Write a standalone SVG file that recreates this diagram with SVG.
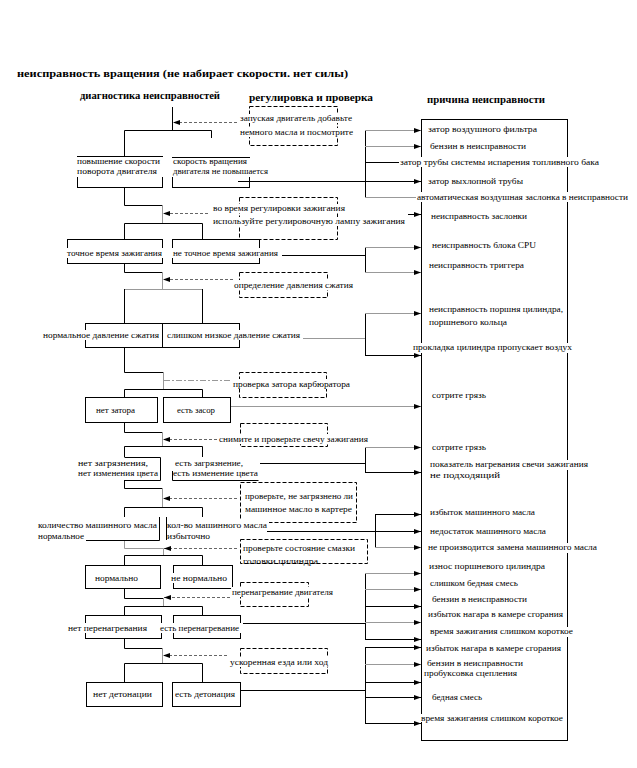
<svg xmlns="http://www.w3.org/2000/svg" width="637" height="768" viewBox="0 0 637 768">
<defs>
<style>
.t{font-family:"Liberation Serif","Times New Roman",serif;font-size:9px;fill:#000}
.h{font-weight:bold;font-size:10px}
.ln{stroke:#000;stroke-width:1;fill:none}
.gr{stroke:#999}
.box{fill:none;stroke:#000;stroke-width:1}
.dbox{fill:none;stroke:#000;stroke-width:1;stroke-dasharray:4,2}
.da{stroke:#666;stroke-width:1;stroke-dasharray:3,2;fill:none}
.dd{stroke:#999;stroke-width:1;stroke-dasharray:6,2,2,2;fill:none}
.bg{fill:#fff}
</style>
<marker id="ah" markerWidth="7" markerHeight="6" refX="7" refY="3" orient="auto" markerUnits="userSpaceOnUse"><path d="M0,0.5 L7,3 L0,5.5z" fill="#000"/></marker>
</defs>
<rect width="637" height="768" fill="#fff"/>

<g id="titles">
<text class="t h" x="17" y="77" font-size="11" textLength="331" lengthAdjust="spacingAndGlyphs">неисправность вращения (не набирает скорости. нет силы)</text>
<text class="t h" x="80" y="98.5" textLength="140" lengthAdjust="spacingAndGlyphs">диагностика неисправностей</text>
<text class="t h" x="249" y="100.5" textLength="124" lengthAdjust="spacingAndGlyphs">регулировка и проверка</text>
<text class="t h" x="427" y="102.5" textLength="118" lengthAdjust="spacingAndGlyphs">причина неисправности</text>
</g>

<g id="connectors">
<path class="ln" d="M172.5,107 V130.5 M124.5,156 V130.5 H211.5 V138"/>
<line class="da" x1="237" y1="122.5" x2="173" y2="122.5" marker-end="url(#ah)"/>
<path class="ln" d="M238,181.5 H421" marker-end="url(#ah)"/>
<path class="ln" d="M365.5,130 V197.5"/>
<line class="ln gr" x1="365" y1="130.5" x2="421" y2="130.5" marker-end="url(#ah)"/>
<line class="ln gr" x1="365" y1="146.5" x2="421" y2="146.5" marker-end="url(#ah)"/>
<line class="ln" x1="365" y1="162.5" x2="399" y2="162.5"/>
<line class="ln gr" x1="365" y1="197.5" x2="416" y2="197.5"/>
<path class="ln" d="M124.5,188 V205.5 H162.5"/>
<path class="ln gr" d="M162.5,205 V223"/>
<line class="da" x1="208" y1="213.5" x2="163" y2="213.5" marker-end="url(#ah)"/>
<path class="ln" d="M124.5,239 V223.5 H202.5 V239"/>
<line class="ln" x1="408" y1="214.5" x2="421" y2="214.5" marker-end="url(#ah)"/>
<path class="ln" d="M282,255.5 H365.5 M365.5,247 V272.5"/>
<line class="ln gr" x1="365" y1="247.5" x2="421" y2="247.5" marker-end="url(#ah)"/>
<line class="ln gr" x1="365" y1="272.5" x2="421" y2="272.5" marker-end="url(#ah)"/>
<path class="ln" d="M124.5,263 V272.5 H162.5"/>
<path class="ln gr" d="M162.5,272 V289"/>
<line class="da" x1="233" y1="279.5" x2="163" y2="279.5" marker-end="url(#ah)"/>
<path class="ln gr" d="M124.5,289.5 H202.5"/>
<path class="ln" d="M124.5,289 V323 M202.5,289 V323"/>
<path class="ln gr" d="M303,338.5 H365.5"/>
<path class="ln" d="M365.5,313 V355.5"/>
<line class="ln gr" x1="365" y1="313.5" x2="421" y2="313.5" marker-end="url(#ah)"/>
<line class="ln" x1="365" y1="355.5" x2="421" y2="355.5" marker-end="url(#ah)"/>
<path class="ln" d="M124.5,347 V372.5 H163.5"/>
<path class="ln gr" d="M163.5,372 V389"/>
<line class="dd" x1="164" y1="380.5" x2="233" y2="380.5"/>
<path class="ln" d="M124.5,397 V389.5 H202.5 V397"/>
<line class="ln gr" x1="230" y1="406.5" x2="421" y2="406.5" marker-end="url(#ah)"/>
<path class="ln" d="M124.5,422 V432.5 H162.5"/>
<path class="ln gr" d="M162.5,432 V446"/>
<line class="da" x1="217" y1="439.5" x2="163" y2="439.5" marker-end="url(#ah)"/>
<path class="ln" d="M124.5,457 V446.5 H202.5 V457"/>
<path class="ln" d="M260,463.5 H365.5 M365.5,447 V472.5"/>
<line class="ln gr" x1="365" y1="447.5" x2="421" y2="447.5" marker-end="url(#ah)"/>
<line class="ln" x1="365" y1="472.5" x2="421" y2="472.5" marker-end="url(#ah)"/>
<path class="ln" d="M124.5,480 V488.5 H162.5"/>
<path class="ln gr" d="M162.5,488 V507"/>
<line class="da" x1="237" y1="498.5" x2="163" y2="498.5" marker-end="url(#ah)"/>
<path class="ln" d="M124.5,517 V507.5 H202.5 V517"/>
<path class="ln" d="M267,531.5 H375.5 M375.5,514 V547.5"/>
<line class="ln" x1="375" y1="514.5" x2="421" y2="514.5" marker-end="url(#ah)"/>
<line class="ln" x1="375" y1="531.5" x2="421" y2="531.5" marker-end="url(#ah)"/>
<line class="ln gr" x1="375" y1="547.5" x2="421" y2="547.5" marker-end="url(#ah)"/>
<path class="ln gr" d="M124.5,540 V548.5 H163.5 V555"/>
<line class="da" x1="237" y1="548.5" x2="164" y2="548.5" marker-end="url(#ah)"/>
<path class="ln" d="M124.5,565 V555.5 H202.5 V565"/>
<path class="ln" d="M124.5,588 V598.5 H163.5"/>
<path class="ln gr" d="M163.5,598 V606"/>
<line class="da" x1="230" y1="597.5" x2="164" y2="597.5" marker-end="url(#ah)"/>
<path class="ln" d="M124.5,615 V606.5 H202.5 V615"/>
<path class="ln" d="M243,623.5 H365.5 M365.5,573 V639.5"/>
<line class="ln gr" x1="365" y1="573.5" x2="421" y2="573.5" marker-end="url(#ah)"/>
<line class="ln gr" x1="365" y1="589.5" x2="421" y2="589.5" marker-end="url(#ah)"/>
<line class="ln" x1="365" y1="606.5" x2="421" y2="606.5" marker-end="url(#ah)"/>
<line class="ln gr" x1="365" y1="622.5" x2="421" y2="622.5" marker-end="url(#ah)"/>
<line class="ln" x1="365" y1="639.5" x2="421" y2="639.5" marker-end="url(#ah)"/>
<path class="ln" d="M124.5,638 V648.5 H162.5"/>
<path class="ln gr" d="M162.5,648 V663"/>
<line class="da" x1="227" y1="655.5" x2="163" y2="655.5" marker-end="url(#ah)"/>
<path class="ln" d="M124.5,682 V663.5 H202.5 V682"/>
<path class="ln" d="M240,690.5 H365.5 M365.5,647 V723.5"/>
<line class="ln" x1="365" y1="647.5" x2="421" y2="647.5" marker-end="url(#ah)"/>
<line class="ln gr" x1="365" y1="664.5" x2="421" y2="664.5" marker-end="url(#ah)"/>
<line class="ln" x1="365" y1="682.5" x2="421" y2="682.5" marker-end="url(#ah)"/>
<line class="ln" x1="365" y1="697.5" x2="421" y2="697.5" marker-end="url(#ah)"/>
<line class="ln" x1="365" y1="723.5" x2="421" y2="723.5" marker-end="url(#ah)"/>
</g>

<g id="check1">
<rect class="dbox" x="249.5" y="106.5" width="88" height="39"/>
<rect class="bg" x="239" y="114" width="115" height="9"/>
<rect class="bg" x="239" y="128" width="115" height="9"/>
<text class="t" x="240" y="121" textLength="112" lengthAdjust="spacingAndGlyphs">запуская двигатель добавьте</text>
<text class="t" x="240" y="135" textLength="113" lengthAdjust="spacingAndGlyphs">немного масла и посмотрите</text>
</g>

<g id="n-speed-up">
<rect class="box" x="77.5" y="156.5" width="85" height="31"/>
<rect class="bg" x="76" y="157" width="88" height="20"/>
<text class="t" x="77" y="164" textLength="83" lengthAdjust="spacingAndGlyphs">повышение скорости</text>
<text class="t" x="77" y="174" textLength="80" lengthAdjust="spacingAndGlyphs">поворота двигателя</text>
</g>

<g id="n-speed-no">
<rect class="box" x="172.5" y="157.5" width="77" height="30"/>
<rect class="bg" x="171" y="158" width="99" height="19"/>
<text class="t" x="173" y="164" textLength="74" lengthAdjust="spacingAndGlyphs">скорость вращения</text>
<text class="t" x="173" y="174" textLength="95" lengthAdjust="spacingAndGlyphs">двигателя не повышается</text>
</g>

<g id="check2">
<rect class="dbox" x="239.5" y="197.5" width="98" height="42"/>
<rect class="bg" x="212" y="204" width="135" height="9"/>
<rect class="bg" x="212" y="217" width="195" height="9"/>
<text class="t" x="213" y="211" textLength="132" lengthAdjust="spacingAndGlyphs">во время регулировки зажигания</text>
<text class="t" x="213" y="224" textLength="192" lengthAdjust="spacingAndGlyphs">используйте регулировочную лампу зажигания</text>
</g>

<g id="n-timing-ok">
<rect class="box" x="67.5" y="239.5" width="95" height="24"/>
<rect class="bg" x="66" y="248" width="98" height="10"/>
<text class="t" x="67" y="256" textLength="95" lengthAdjust="spacingAndGlyphs">точное время зажигания</text>
</g>

<g id="n-timing-bad">
<rect class="box" x="172.5" y="239.5" width="87" height="24"/>
<rect class="bg" x="171" y="248" width="109" height="10"/>
<text class="t" x="173" y="256" textLength="105" lengthAdjust="spacingAndGlyphs">не точное время зажигания</text>
</g>

<g id="check3">
<rect class="dbox" x="239.5" y="272.5" width="88" height="25"/>
<rect class="bg" x="233" y="280" width="122" height="10"/>
<text class="t" x="234" y="288" textLength="119" lengthAdjust="spacingAndGlyphs">определение давления сжатия</text>
</g>

<g id="n-press-ok">
<rect class="box" x="85.5" y="323.5" width="77" height="24"/>
<rect class="bg" x="42" y="330" width="119" height="10"/>
<text class="t" x="43" y="338" textLength="116" lengthAdjust="spacingAndGlyphs">нормальное давление сжатия</text>
</g>

<g id="n-press-low">
<rect class="box" x="162.5" y="323.5" width="77" height="24"/>
<rect class="bg" x="164" y="330" width="138" height="10"/>
<text class="t" x="167" y="338" textLength="133" lengthAdjust="spacingAndGlyphs">слишком низкое давление сжатия</text>
</g>

<g id="check4">
<rect class="dbox" x="239.5" y="372.5" width="87" height="25"/>
<rect class="bg" x="232" y="379" width="120" height="10"/>
<text class="t" x="233" y="387" textLength="117" lengthAdjust="spacingAndGlyphs">проверка затора карбюратора</text>
</g>

<g id="n-no-clog">
<rect class="box" x="85.5" y="397.5" width="72" height="25"/>
<text class="t" x="96" y="413" textLength="39" lengthAdjust="spacingAndGlyphs">нет затора</text>
</g>

<g id="n-clog">
<rect class="box" x="163.5" y="397.5" width="67" height="25"/>
<text class="t" x="177" y="413" textLength="38" lengthAdjust="spacingAndGlyphs">есть засор</text>
</g>

<g id="check5">
<rect class="dbox" x="240.5" y="423.5" width="87" height="23"/>
<rect class="bg" x="218" y="434" width="152" height="10"/>
<text class="t" x="219" y="442" textLength="149" lengthAdjust="spacingAndGlyphs">снимите и проверьте свечу зажигания</text>
</g>

<g id="n-no-dirt">
<path class="box" d="M124.5,457.5 H160.5 V480.5 H124.5"/>
<rect class="bg" x="77" y="459" width="82" height="19"/>
<text class="t" x="78" y="466" textLength="70" lengthAdjust="spacingAndGlyphs">нет загрязнения,</text>
<text class="t" x="78" y="476" textLength="80" lengthAdjust="spacingAndGlyphs">нет изменения цвета</text>
</g>

<g id="n-dirt">
<path class="box" d="M172.5,471 V480.5 H258.5"/>
<text class="t" x="175" y="466" textLength="68" lengthAdjust="spacingAndGlyphs">есть загрязнение,</text>
<text class="t" x="173" y="476" textLength="85" lengthAdjust="spacingAndGlyphs">есть изменение цвета</text>
</g>

<g id="check6">
<rect class="dbox" x="240.5" y="482.5" width="116" height="40"/>
<rect class="bg" x="244" y="491" width="111" height="10"/>
<rect class="bg" x="244" y="504" width="111" height="10"/>
<text class="t" x="245" y="499" textLength="108" lengthAdjust="spacingAndGlyphs">проверьте, не загрязнено ли</text>
<text class="t" x="245" y="512" textLength="107" lengthAdjust="spacingAndGlyphs">машинное масло в картере</text>
</g>

<g id="n-oil-ok">
<path class="box" d="M159.5,517 V540.5 H86"/>
<rect class="bg" x="37" y="520" width="121" height="10"/>
<text class="t" x="38" y="528" textLength="119" lengthAdjust="spacingAndGlyphs">количество машинного масла</text>
<text class="t" x="38" y="539" textLength="46" lengthAdjust="spacingAndGlyphs">нормальное</text>
</g>

<g id="n-oil-over">
<path class="box" d="M166.5,517 V540"/>
<rect class="bg" x="167" y="520" width="102" height="10"/>
<text class="t" x="167" y="528" textLength="100" lengthAdjust="spacingAndGlyphs">кол-во машинного масла</text>
<text class="t" x="167" y="539" textLength="43" lengthAdjust="spacingAndGlyphs">избыточно</text>
</g>

<g id="check7">
<rect class="dbox" x="240.5" y="539.5" width="127" height="24"/>
<rect class="bg" x="242" y="543" width="115" height="10"/>
<rect class="bg" x="242" y="556" width="78" height="7"/>
<text class="t" x="243" y="551" textLength="112" lengthAdjust="spacingAndGlyphs">проверьте состояние смазки</text>
<text class="t" x="243" y="564" textLength="75" lengthAdjust="spacingAndGlyphs">головки цилиндра</text>
</g>

<g id="n-normal">
<rect class="box" x="85.5" y="565.5" width="75" height="23"/>
<text class="t" x="95" y="581" textLength="43" lengthAdjust="spacingAndGlyphs">нормально</text>
</g>

<g id="n-abnormal">
<rect class="box" x="173.5" y="565.5" width="59" height="23"/>
<rect class="bg" x="170" y="573" width="59" height="10"/>
<text class="t" x="171" y="581" textLength="56" lengthAdjust="spacingAndGlyphs">не нормально</text>
</g>

<g id="check8">
<rect class="dbox" x="240.5" y="582.5" width="68" height="24"/>
<rect class="bg" x="231" y="587" width="104" height="10"/>
<text class="t" x="232" y="595" textLength="101" lengthAdjust="spacingAndGlyphs">перенагревание двигателя</text>
</g>

<g id="n-no-heat">
<rect class="box" x="85.5" y="615.5" width="76" height="23"/>
<rect class="bg" x="67" y="623" width="82" height="10"/>
<text class="t" x="68" y="631" textLength="79" lengthAdjust="spacingAndGlyphs">нет перенагревания</text>
</g>

<g id="n-heat">
<rect class="box" x="173.5" y="615.5" width="67" height="23"/>
<rect class="bg" x="159" y="623" width="82" height="10"/>
<text class="t" x="160" y="631" textLength="79" lengthAdjust="spacingAndGlyphs">есть перенагревание</text>
</g>

<g id="check9">
<rect class="dbox" x="240.5" y="648.5" width="87" height="25"/>
<rect class="bg" x="229" y="657" width="101" height="10"/>
<text class="t" x="230" y="665" textLength="98" lengthAdjust="spacingAndGlyphs">ускоренная езда или ход</text>
</g>

<g id="n-no-knock">
<rect class="box" x="86.5" y="682.5" width="76" height="24"/>
<text class="t" x="93" y="697" textLength="59" lengthAdjust="spacingAndGlyphs">нет детонации</text>
</g>

<g id="n-knock">
<rect class="box" x="172.5" y="682.5" width="68" height="24"/>
<text class="t" x="175" y="697" textLength="60" lengthAdjust="spacingAndGlyphs">есть детонация</text>
</g>

<g id="causes">
<rect class="box" x="421.5" y="119.5" width="146" height="621"/>
<rect class="bg" x="399" y="157" width="202" height="10"/>
<rect class="bg" x="416" y="192" width="214" height="10"/>
<rect class="bg" x="412" y="343" width="162" height="10"/>
<rect class="bg" x="429" y="460" width="161" height="10"/>
<rect class="bg" x="427" y="543" width="172" height="10"/>
<rect class="bg" x="429" y="627" width="146" height="10"/>
<rect class="bg" x="420" y="714" width="145" height="8"/>
<text class="t" x="428" y="132" textLength="109" lengthAdjust="spacingAndGlyphs">затор воздушного фильтра</text>
<text class="t" x="430" y="149" textLength="96" lengthAdjust="spacingAndGlyphs">бензин в неисправности</text>
<text class="t" x="400" y="165" textLength="199" lengthAdjust="spacingAndGlyphs">затор трубы системы испарения топливного бака</text>
<text class="t" x="428" y="184" textLength="95" lengthAdjust="spacingAndGlyphs">затор выхлопной трубы</text>
<text class="t" x="417" y="200" textLength="211" lengthAdjust="spacingAndGlyphs">автоматическая воздушная заслонка в неисправности</text>
<text class="t" x="431" y="219" textLength="96" lengthAdjust="spacingAndGlyphs">неисправность заслонки</text>
<text class="t" x="432" y="248" textLength="104" lengthAdjust="spacingAndGlyphs">неисправность блока CPU</text>
<text class="t" x="429" y="268" textLength="95" lengthAdjust="spacingAndGlyphs">неисправность триггера</text>
<text class="t" x="429" y="312" textLength="134" lengthAdjust="spacingAndGlyphs">неисправность поршня цилиндра,</text>
<text class="t" x="429" y="325" textLength="78" lengthAdjust="spacingAndGlyphs">поршневого кольца</text>
<text class="t" x="413" y="350" textLength="159" lengthAdjust="spacingAndGlyphs">прокладка цилиндра пропускает воздух</text>
<text class="t" x="432" y="398" textLength="54" lengthAdjust="spacingAndGlyphs">сотрите грязь</text>
<text class="t" x="432" y="450" textLength="54" lengthAdjust="spacingAndGlyphs">сотрите грязь</text>
<text class="t" x="430" y="467" textLength="158" lengthAdjust="spacingAndGlyphs">показатель нагревания свечи зажигания</text>
<text class="t" x="430" y="478" textLength="70" lengthAdjust="spacingAndGlyphs">не подходящий</text>
<text class="t" x="430" y="515" textLength="105" lengthAdjust="spacingAndGlyphs">избыток машинного масла</text>
<text class="t" x="430" y="534" textLength="116" lengthAdjust="spacingAndGlyphs">недостаток машинного масла</text>
<text class="t" x="428" y="550" textLength="169" lengthAdjust="spacingAndGlyphs">не производится замена машинного масла</text>
<text class="t" x="429" y="569" textLength="116" lengthAdjust="spacingAndGlyphs">износ поршневого цилиндра</text>
<text class="t" x="430" y="586" textLength="88" lengthAdjust="spacingAndGlyphs">слишком бедная смесь</text>
<text class="t" x="432" y="602" textLength="95" lengthAdjust="spacingAndGlyphs">бензин в неисправности</text>
<text class="t" x="428" y="617" textLength="135" lengthAdjust="spacingAndGlyphs">избыток нагара в камере сгорания</text>
<text class="t" x="430" y="634" textLength="143" lengthAdjust="spacingAndGlyphs">время зажигания слишком короткое</text>
<text class="t" x="426" y="651" textLength="135" lengthAdjust="spacingAndGlyphs">избыток нагара в камере сгорания</text>
<text class="t" x="427" y="666" textLength="96" lengthAdjust="spacingAndGlyphs">бензин в неисправности</text>
<text class="t" x="424" y="676" textLength="93" lengthAdjust="spacingAndGlyphs">пробуксовка сцепления</text>
<text class="t" x="432" y="700" textLength="50" lengthAdjust="spacingAndGlyphs">бедная смесь</text>
<text class="t" x="421" y="721" textLength="142" lengthAdjust="spacingAndGlyphs">время зажигания слишком короткое</text>
</g>
</svg>
